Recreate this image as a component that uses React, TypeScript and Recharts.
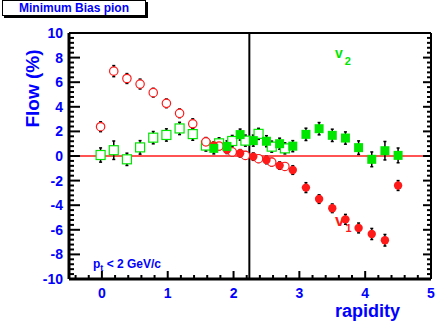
import { ScatterChart, Scatter, XAxis, YAxis, ErrorBar, ReferenceLine } from 'recharts'

// rapidity bins of the measured points and of their reflections about y_cm
const rapidity = [1.7, 1.9, 2.1, 2.3, 2.5, 2.7, 2.9, 3.1, 3.3, 3.5, 3.7, 3.9, 4.1, 4.3, 4.5]
const rapidityReflected = [-0.02, 0.18, 0.38, 0.58, 0.78, 0.98, 1.18, 1.38, 1.58, 1.78, 1.98, 2.18, 2.38, 2.58, 2.78]

const v1Measured = [0.85, 0.5, 0.22, -0.05, -0.33, -0.78, -1.14, -2.57, -3.5, -4.25, -5.15, -5.85, -6.34, -6.85, -2.4]
const v1MeasuredErr = [0.3, 0.3, 0.3, 0.3, 0.3, 0.3, 0.35, 0.4, 0.35, 0.35, 0.4, 0.4, 0.45, 0.47, 0.4]
const v1Reflected = [2.38, 6.9, 6.3, 5.85, 5.15, 4.28, 3.47, 2.62, 1.15, 0.81, 0.33, 0.05, -0.22, -0.5, -0.85]
const v1ReflectedErr = [0.4, 0.45, 0.4, 0.4, 0.35, 0.35, 0.35, 0.4, 0.35, 0.3, 0.3, 0.3, 0.3, 0.3, 0.3]

const v2Measured = [0.62, 0.78, 1.74, 1.25, 1.2, 1.0, 0.8, 1.76, 2.22, 1.68, 1.46, 0.68, -0.27, 0.43, 0.05]
const v2MeasuredErr = [0.45, 0.45, 0.45, 0.45, 0.45, 0.45, 0.45, 0.5, 0.5, 0.5, 0.5, 0.55, 0.6, 0.75, 0.6]
const v2Reflected = [0.08, 0.47, -0.27, 0.7, 1.49, 1.71, 2.24, 1.78, 0.85, 1.03, 1.22, 1.25, 1.8, 0.76, 0.62]
const v2ReflectedErr = [0.58, 0.75, 0.5, 0.55, 0.5, 0.5, 0.5, 0.5, 0.45, 0.45, 0.45, 0.45, 0.45, 0.45, 0.45]

const xTickLabels = [0, 1, 2, 3, 4, 5]
const yTickLabels = [-10, -8, -6, -4, -2, 0, 2, 4, 6, 8, 10]
const midRapidity = 2.24

const BLUE = '#0000ff'
const RED = '#ff1a1a'
const GREEN = '#00e600'
const FONT = 'Liberation Sans, Arial, Helvetica, sans-serif'

const toPoints = (xs: number[], ys: number[], errs: number[]) =>
  xs.map((x, i) => ({ x, y: ys[i], err: errs[i] }))

const v1Data = toPoints(rapidity, v1Measured, v1MeasuredErr)
const v1RefData = toPoints(rapidityReflected, v1Reflected, v1ReflectedErr)
const v2Data = toPoints(rapidity, v2Measured, v2MeasuredErr)
const v2RefData = toPoints(rapidityReflected, v2Reflected, v2ReflectedErr)

// minor ticks every 0.2 in x and 0.4 in y, majors come from the label arrays
const xTicks: number[] = []
for (let i = -2; i <= 25; i++) xTicks.push(+(i * 0.2).toFixed(2))
const yTicks: number[] = []
for (let i = -25; i <= 25; i++) yTicks.push(+(i * 0.4).toFixed(2))

const isMajor = (v: number, labels: number[]) => labels.some((l) => Math.abs(l - v) < 1e-6)

const BottomTick = (props: any) => {
  const { x, y, payload } = props
  const major = isMajor(payload.value, xTickLabels)
  return (
    <g>
      <line x1={x} y1={y} x2={x} y2={y - (major ? 8 : 4)} stroke="#000" strokeWidth={2} />
      {major && (
        <text x={x} y={y + 19} textAnchor="middle" fill={BLUE} fontSize={14} fontWeight="bold" fontFamily={FONT}>
          {Math.round(payload.value)}
        </text>
      )}
    </g>
  )
}

const TopTick = (props: any) => {
  const { x, y, payload } = props
  const major = isMajor(payload.value, xTickLabels)
  return <line x1={x} y1={y} x2={x} y2={y + (major ? 8 : 4)} stroke="#000" strokeWidth={2} />
}

const LeftTick = (props: any) => {
  const { x, y, payload } = props
  const major = isMajor(payload.value, yTickLabels)
  return (
    <g>
      <line x1={x} y1={y} x2={x + (major ? 11 : 5)} y2={y} stroke="#000" strokeWidth={2} />
      {major && (
        <text x={x - 6} y={y + 5} textAnchor="end" fill={BLUE} fontSize={14} fontWeight="bold" fontFamily={FONT}>
          {Math.round(payload.value)}
        </text>
      )}
    </g>
  )
}

const RightTick = (props: any) => {
  const { x, y, payload } = props
  const major = isMajor(payload.value, yTickLabels)
  return <line x1={x} y1={y} x2={x - (major ? 8 : 4)} y2={y} stroke="#000" strokeWidth={2} />
}

const NoMark = () => <g />
const OpenCircle = (props: any) => (
  <circle cx={props.cx} cy={props.cy} r={4.2} fill="#fff" stroke={RED} strokeWidth={1.2} />
)
const FullCircle = (props: any) => <circle cx={props.cx} cy={props.cy} r={4.2} fill={RED} />
const OpenSquare = (props: any) => (
  <rect x={props.cx - 4.5} y={props.cy - 4.5} width={9} height={9} fill="#fff" stroke={GREEN} strokeWidth={1.2} />
)
const FullSquare = (props: any) => (
  <rect x={props.cx - 4.5} y={props.cy - 4.5} width={9} height={9} fill={GREEN} />
)

const series = [
  { key: 'v2ref', data: v2RefData, shape: OpenSquare },
  { key: 'v1ref', data: v1RefData, shape: OpenCircle },
  { key: 'v1', data: v1Data, shape: FullCircle },
  { key: 'v2', data: v2Data, shape: FullSquare },
]

export default function App() {
  return (
    <div style={{ position: 'absolute', left: 0, top: 0, width: 436, height: 323, background: '#fff' }}>
      <ScatterChart width={436} height={323} margin={{ top: 32, right: 4, bottom: 43, left: 68 }}>
        <XAxis
          xAxisId="x"
          dataKey="x"
          type="number"
          domain={[-0.5, 5]}
          allowDataOverflow
          ticks={xTicks}
          interval={0}
          height={1}
          tickSize={0}
          tickMargin={0}
          tickLine={false}
          axisLine={{ stroke: '#000', strokeWidth: 3 }}
          tick={(p: any) => <BottomTick {...p} />}
        />
        <XAxis
          xAxisId="xt"
          orientation="top"
          type="number"
          domain={[-0.5, 5]}
          allowDataOverflow
          ticks={xTicks}
          interval={0}
          height={1}
          tickSize={0}
          tickMargin={0}
          tickLine={false}
          axisLine={{ stroke: '#000', strokeWidth: 2 }}
          tick={(p: any) => <TopTick {...p} />}
        />
        <YAxis
          yAxisId="y"
          dataKey="y"
          type="number"
          domain={[-10, 10]}
          allowDataOverflow
          ticks={yTicks}
          interval={0}
          width={1}
          tickSize={0}
          tickMargin={0}
          tickLine={false}
          axisLine={{ stroke: '#000', strokeWidth: 3 }}
          tick={(p: any) => <LeftTick {...p} />}
        />
        <YAxis
          yAxisId="yr"
          orientation="right"
          type="number"
          domain={[-10, 10]}
          allowDataOverflow
          ticks={yTicks}
          interval={0}
          width={1}
          tickSize={0}
          tickMargin={0}
          tickLine={false}
          axisLine={{ stroke: '#000', strokeWidth: 2 }}
          tick={(p: any) => <RightTick {...p} />}
        />
        <ReferenceLine xAxisId="x" yAxisId="y" y={0} stroke={RED} strokeWidth={1.5} />
        <ReferenceLine xAxisId="x" yAxisId="y" x={midRapidity} stroke="#000" strokeWidth={2} />
        {series.map((s) => (
          <Scatter key={s.key + '-err'} xAxisId="x" yAxisId="y" data={s.data} shape={NoMark} isAnimationActive={false}>
            <ErrorBar dataKey="err" direction="y" stroke="#000" strokeWidth={1.5} width={1.5} />
          </Scatter>
        ))}
        {series.map((s) => (
          <Scatter key={s.key} xAxisId="x" yAxisId="y" data={s.data} shape={s.shape} isAnimationActive={false} />
        ))}
      </ScatterChart>

      <svg width={436} height={323} style={{ position: 'absolute', left: 0, top: 0, pointerEvents: 'none' }}>
        <text
          transform="translate(38.5,88.5) rotate(-90)"
          textAnchor="middle"
          fill={BLUE}
          fontSize={19}
          fontWeight="bold"
          fontFamily={FONT}
        >
          Flow (%)
        </text>
        <text x={335} y={317} fill={BLUE} fontSize={18} fontWeight="bold" fontFamily={FONT}>
          rapidity
        </text>
        <text x={335} y={58} fill={GREEN} fontSize={14} fontWeight="bold" fontFamily={FONT}>
          v
          <tspan dx={2} dy={7} fontSize={11}>2</tspan>
        </text>
        <text x={335} y={226} fill={RED} fontSize={17} fontWeight="bold" fontFamily={FONT}>
          v
          <tspan dx={1} dy={6} fontSize={11}>1</tspan>
        </text>
        <text x={93} y={268} fill={BLUE} fontSize={12} fontWeight="bold" fontFamily={FONT}>
          p<tspan dy={3} fontSize={9}>t</tspan>
          <tspan dy={-3}> &lt; 2 GeV/c</tspan>
        </text>
      </svg>

      <div
        style={{
          position: 'absolute',
          left: 2,
          top: 0,
          width: 142,
          height: 14,
          border: '1px solid #000',
          boxShadow: '2px 2px 0 #000',
          background: '#fff',
          color: BLUE,
          fontFamily: FONT,
          fontWeight: 'bold',
          fontSize: 12,
          lineHeight: '15px',
          textAlign: 'center',
        }}
      >
        Minimum Bias pion
      </div>
    </div>
  )
}
